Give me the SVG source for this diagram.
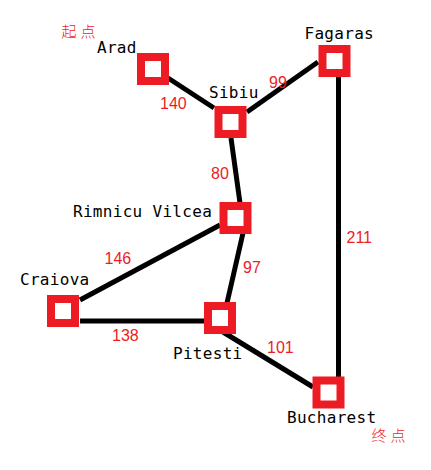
<svg xmlns="http://www.w3.org/2000/svg" width="431" height="470" viewBox="0 0 431 470">
<style>
.edge{stroke:#000;stroke-width:5;fill:none}
.box{fill:#fff;stroke:#ED1C24;stroke-width:8}
.name{font-family:"DejaVu Sans Mono","Liberation Mono",monospace;font-size:16px;letter-spacing:0.3px;fill:#000}
.w{font-family:"Liberation Sans",Arial,sans-serif;font-size:16px;fill:#ED1C24}
.cn{font-family:"Noto Sans CJK SC",sans-serif;font-size:15px;fill:#ED1C24;font-weight:300;letter-spacing:4px}
</style>
<rect width="431" height="470" fill="#fff"/>
<g id="connectors">
<line class="edge" x1="168" y1="78" x2="214" y2="108"/>
<line class="edge" x1="247" y1="112" x2="318" y2="62"/>
<line class="edge" x1="231" y1="138" x2="240" y2="203"/>
<line class="edge" x1="80" y1="300" x2="220" y2="225"/>
<line class="edge" x1="243" y1="233" x2="227" y2="303"/>
<line class="edge" x1="80" y1="321" x2="205" y2="321"/>
<line class="edge" x1="223" y1="332" x2="313" y2="387"/>
<line class="edge" x1="338.5" y1="77" x2="338.5" y2="378"/>
<text class="w" x="160" y="109">140</text>
<text class="w" x="269" y="88">99</text>
<text class="w" x="211" y="179">80</text>
<text class="w" x="346.5" y="243">211</text>
<text class="w" x="104.5" y="264">146</text>
<text class="w" x="243" y="273">97</text>
<text class="w" x="112" y="341">138</text>
<text class="w" x="267" y="353">101</text>
</g>
<g id="Arad"><rect class="box" x="141" y="57" width="24" height="24"/><text class="name" x="97" y="53">Arad</text></g>
<g id="Sibiu"><rect class="box" x="218.5" y="110" width="24" height="24"/><text class="name" x="209" y="98">Sibiu</text></g>
<g id="Fagaras"><rect class="box" x="322.5" y="49" width="24" height="24"/><text class="name" x="304.5" y="39">Fagaras</text></g>
<g id="RimnicuVilcea"><rect class="box" x="223.5" y="206" width="24" height="24"/><text class="name" x="73" y="217">Rimnicu Vilcea</text></g>
<g id="Craiova"><rect class="box" x="51" y="299" width="24" height="24"/><text class="name" x="20" y="285">Craiova</text></g>
<g id="Pitesti"><rect class="box" x="208" y="306" width="24" height="24"/><text class="name" x="173" y="359">Pitesti</text></g>
<g id="Bucharest"><rect class="box" x="316.5" y="380.5" width="24" height="24"/><text class="name" x="287" y="423">Bucharest</text></g>
<text class="cn" x="61.5" y="37">起点</text>
<text class="cn" x="371.5" y="441">终点</text>
</svg>
